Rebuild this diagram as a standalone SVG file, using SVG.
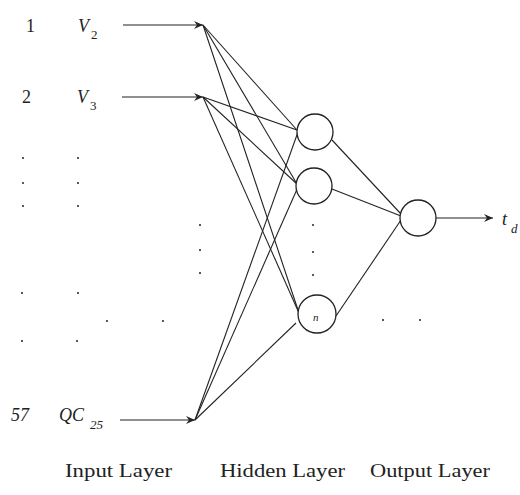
<svg xmlns="http://www.w3.org/2000/svg" width="520" height="495" viewBox="0 0 520 495">
<style>
.t{font-family:"Liberation Serif",serif;font-size:18px;fill:#222}
.i{font-style:italic}
.s{font-size:13px}
.c{fill:#fff;stroke:#222;stroke-width:1.3}
.l{stroke:#222;stroke-width:1.1;fill:none}
.d{fill:#222}
</style>
<defs>
<marker id="a" markerWidth="10" markerHeight="8" refX="9" refY="4" orient="auto" markerUnits="userSpaceOnUse">
<path d="M0,0 L9,4 L0,8 L3,4 Z" fill="#222"/>
</marker>
</defs>
<rect width="520" height="495" fill="#fff"/>
<g id="connectors">
<line class="l" x1="123" y1="25" x2="203" y2="25" marker-end="url(#a)"/>
<line class="l" x1="122" y1="97" x2="203" y2="97" marker-end="url(#a)"/>
<line class="l" x1="120" y1="420" x2="195" y2="420" marker-end="url(#a)"/>
<line class="l" x1="203" y1="25" x2="297" y2="130"/>
<line class="l" x1="203" y1="25" x2="297" y2="184"/>
<line class="l" x1="203" y1="25" x2="299" y2="313"/>
<line class="l" x1="203" y1="97" x2="297" y2="130"/>
<line class="l" x1="203" y1="97" x2="297" y2="184"/>
<line class="l" x1="203" y1="97" x2="299" y2="313"/>
<line class="l" x1="195" y1="420" x2="298" y2="132"/>
<line class="l" x1="195" y1="420" x2="298" y2="187"/>
<line class="l" x1="195" y1="420" x2="296" y2="323"/>
<line class="l" x1="332" y1="140" x2="401" y2="214"/>
<line class="l" x1="332" y1="189" x2="401" y2="216"/>
<line class="l" x1="336" y1="316" x2="401" y2="220"/>
<line class="l" x1="436" y1="218" x2="493" y2="218" marker-end="url(#a)"/>
</g>
<g id="h1"><circle class="c" cx="315" cy="132" r="18"/></g>
<g id="h2"><circle class="c" cx="314" cy="186" r="18"/></g>
<g id="h3"><circle class="c" cx="317" cy="314" r="19"/><text class="t i" x="313" y="321" style="font-size:11px">n</text></g>
<g id="out"><circle class="c" cx="418" cy="218" r="18"/></g>
<g id="in1"><text class="t" x="26" y="32">1</text><text class="t i" x="78" y="32">V</text><text class="t s" x="91" y="39">2</text></g>
<g id="in2"><text class="t" x="22" y="103">2</text><text class="t i" x="77" y="103">V</text><text class="t s" x="90" y="110">3</text></g>
<g id="in57"><text class="t i" x="11" y="421">57</text><text class="t i" x="59" y="421">QC</text><text class="t s i" x="90" y="429">25</text></g>
<text class="t i" x="502" y="225">t</text><text class="t s i" x="511" y="233">d</text>
<g id="dots">
<circle class="d" cx="23" cy="158" r="1"/><circle class="d" cx="23" cy="183" r="1"/><circle class="d" cx="23" cy="206" r="1"/>
<circle class="d" cx="78" cy="158" r="1"/><circle class="d" cx="78" cy="183" r="1"/><circle class="d" cx="78" cy="206" r="1"/>
<circle class="d" cx="22" cy="293" r="1"/><circle class="d" cx="78" cy="293" r="1"/>
<circle class="d" cx="22" cy="341" r="1"/><circle class="d" cx="77" cy="341" r="1"/>
<circle class="d" cx="107" cy="321" r="1"/><circle class="d" cx="163" cy="321" r="1"/>
<circle class="d" cx="200" cy="225" r="1"/><circle class="d" cx="200" cy="250" r="1"/><circle class="d" cx="200" cy="273" r="1"/>
<circle class="d" cx="313" cy="225" r="1"/><circle class="d" cx="313" cy="252" r="1"/><circle class="d" cx="313" cy="275" r="1"/>
<circle class="d" cx="383" cy="320" r="1"/><circle class="d" cx="420" cy="320" r="1"/>
</g>
<text class="t" x="65" y="477" textLength="107" lengthAdjust="spacingAndGlyphs">Input Layer</text>
<text class="t" x="220" y="477" textLength="125" lengthAdjust="spacingAndGlyphs">Hidden Layer</text>
<text class="t" x="370" y="477" textLength="120" lengthAdjust="spacingAndGlyphs">Output Layer</text>
</svg>
